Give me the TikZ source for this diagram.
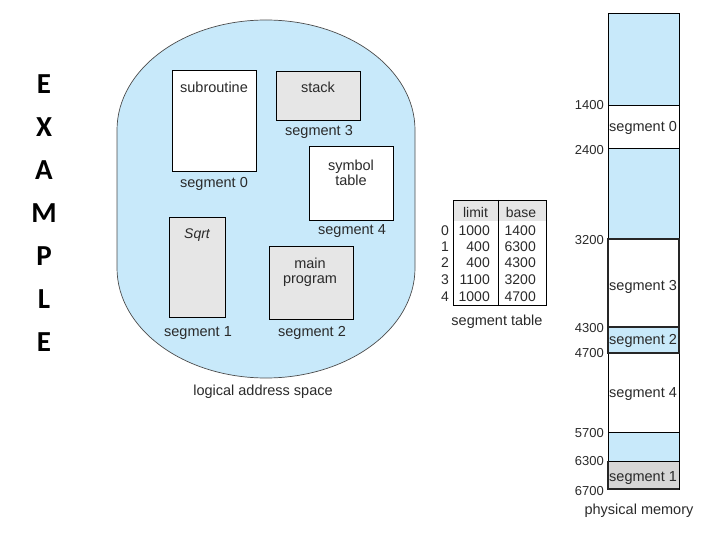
\documentclass[tikz,border=0pt]{standalone}
\usepackage{fontspec}
\setmainfont{Liberation Sans}
\newfontfamily\carl{Carlito}
\definecolor{memblue}{HTML}{C8E9FA}
\definecolor{boxgray}{HTML}{E6E6E6}
\definecolor{seggray}{HTML}{D6D6D6}
\definecolor{txt}{HTML}{2A2A2A}
\tikzset{
  lbl/.style={inner sep=0pt, text=txt, font=\fontsize{14.5}{16}\selectfont},
  tbl/.style={inner sep=0pt, text=txt, font=\fontsize{14}{15}\selectfont},
  num/.style={inner sep=0pt, text=txt, font=\fontsize{13}{14}\selectfont, anchor=east},
  whitebox/.style={draw=black, line width=0.7pt, fill=white},
  graybox/.style={draw=black, line width=0.7pt, fill=boxgray},
  memthin/.style={draw=black, line width=0.6pt},
  memthick/.style={draw=black!85, line width=1.6pt},
  letter/.style={inner sep=0pt, font=\carl\bfseries\fontsize{29}{30}\selectfont}
}
\begin{document}
\begin{tikzpicture}[x=1pt,y=-1pt]
\useasboundingbox (0,0) rectangle (720,540);
% EXAMPLE
\foreach \l/\yy/\n in {E/84/e1,X/127/e2,A/170/e3,M/213/e4,P/256/e5,L/299/e6,E/342/e7}
  \node[letter] (\n) at (44,\yy) {\l};
% logical address space oval
\draw[fill=memblue, draw=black!70, line width=0.7pt]
  (117,130) arc[start angle=180, end angle=360, x radius=149, y radius=110]
  -- (415,268) arc[start angle=0, end angle=180, x radius=149, y radius=110] -- cycle;
% boxes
\node[whitebox, minimum width=84pt, minimum height=101pt] (sub) at (214,120.5) {};
\node[lbl] (subt) at (214,87) {subroutine};
\node[lbl] (s0) at (214,184) {segment 0};
\node[graybox, minimum width=84pt, minimum height=49pt] (stk) at (318,95.5) {};
\node[lbl] (stkt) at (318,87) {stack};
\node[lbl] (s3) at (319,132) {segment 3};
\node[whitebox, minimum width=84pt, minimum height=74pt] (sym) at (351,183) {};
\node[lbl, align=center] (symt) at (351,173) {symbol\\[-1pt]table};
\node[lbl] (s4) at (352,231) {segment 4};
\node[graybox, minimum width=56pt, minimum height=100pt] (sq) at (197,267) {};
\node[lbl, font=\itshape\fontsize{14}{16}\selectfont] (sqt) at (197,235) {Sqrt};
\node[lbl] (s1) at (198,333) {segment 1};
\node[graybox, minimum width=84pt, minimum height=73pt] (mp) at (311,282.5) {};
\node[lbl, align=center] (mpt) at (310,272) {main\\[-1pt]program};
\node[lbl] (s2) at (312,333) {segment 2};
\node[lbl] (las) at (263,392) {logical address space};
% segment table
\fill[boxgray] (453,200) rectangle (546,221);
\draw[line width=0.7pt] (453,200) rectangle (546,305);
\draw[line width=0.7pt] (498,200) -- (498,305);
\node[tbl] (hl) at (475.5,212) {limit};
\node[tbl] (hb) at (521,212) {base};
\foreach \i/\yy/\lim/\bas in {0/231/1000/1400,1/247/400/6300,2/263/400/4300,3/280/1100/3200,4/297/1000/4700}{
  \node[tbl, anchor=east] (ri\i) at (449,\yy) {\i};
  \node[tbl, anchor=east] (rl\i) at (490,\yy) {\lim};
  \node[tbl, anchor=east] (rb\i) at (536,\yy) {\bas};
}
\node[lbl] (st) at (497,322) {segment table};
% physical memory
\fill[memblue] (608,13) rectangle (679,105);
\draw[memthin] (608,13) rectangle (679,105);
\draw[memthin, fill=white] (608,105) rectangle (679,148);
\draw[memthin, fill=memblue] (608,148) rectangle (679,239);
\draw[memthin, fill=white] (608,353) rectangle (679,432);
\draw[memthin, fill=memblue] (608,432) rectangle (679,461);
\draw[memthick, fill=white] (608,239) rectangle (679,327);
\draw[memthick, fill=memblue] (608,327) rectangle (679,353);
\draw[memthin, fill=seggray] (608,461) rectangle (679,489);
\draw[memthick] (608,461) -- (608,489) -- (679,489);
\node[lbl, anchor=west] (m0) at (609,128) {segment 0};
\node[lbl, anchor=west] (m3) at (609,287) {segment 3};
\node[lbl, anchor=west] (m2) at (609,341) {segment 2};
\node[lbl, anchor=west] (m4) at (609,394) {segment 4};
\node[lbl, anchor=west] (m1) at (609,478) {segment 1};
\node[num] (a1) at (604,105) {1400};
\node[num] (a2) at (604,150) {2400};
\node[num] (a3) at (604,240) {3200};
\node[num] (a4) at (604,328) {4300};
\node[num] (a5) at (604,353) {4700};
\node[num] (a6) at (604,433) {5700};
\node[num] (a7) at (604,461) {6300};
\node[num] (a8) at (604,491) {6700};
\node[lbl] (pm) at (639,511) {physical memory};
\end{tikzpicture}
\end{document}
